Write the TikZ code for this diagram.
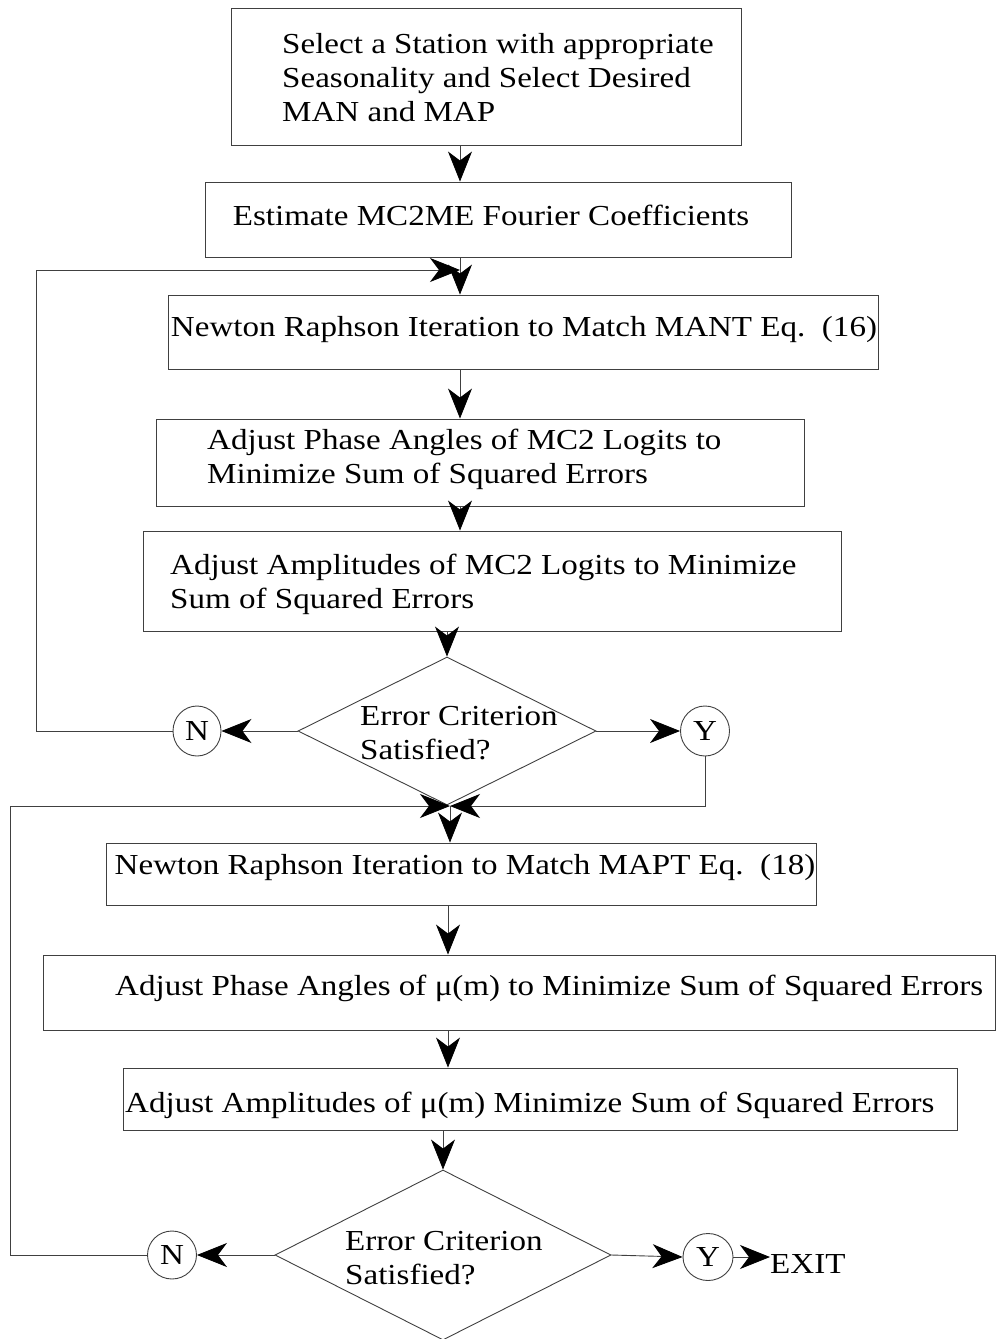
\documentclass[tikz,border=0pt]{standalone}
\usepackage{fontspec}
\setmainfont{Liberation Serif}[FakeStretch=1.14]
\usetikzlibrary{shapes.geometric,arrows.meta}
\begin{document}
\begin{tikzpicture}[x=1pt,y=-1pt,
  box/.style={draw=black!75, line width=0.9pt, rectangle, inner sep=0pt},
  dia/.style={draw=black!75, line width=0.9pt, diamond, inner sep=0pt},
  circ/.style={draw=black!75, line width=0.9pt, ellipse, inner sep=0pt, font=\fontsize{29}{34}\selectfont},
  txt/.style={font=\fontsize{29}{34}\selectfont, inner sep=0pt, align=left},
  arr/.style={draw=black!75, line width=0.9pt, -{Stealth[length=30pt,width=24pt,inset=9pt,color=black]}},
  link/.style={draw=black!75, line width=0.9pt}
]
\useasboundingbox (0,0) rectangle (996,1339);
% boxes
\node[box, minimum width=510pt, minimum height=137pt] (b1) at (486,76.5) {};
\node[box, minimum width=586pt, minimum height=75pt] (b2) at (498,219.5) {};
\node[box, minimum width=710pt, minimum height=74pt] (b3) at (523,332) {};
\node[box, minimum width=648pt, minimum height=87pt] (b4) at (480,462.5) {};
\node[box, minimum width=698pt, minimum height=100pt] (b5) at (492,581) {};
\node[dia, minimum width=298pt, minimum height=148pt] (d1) at (447,731) {};
\node[box, minimum width=710pt, minimum height=62pt] (b6) at (461,874) {};
\node[box, minimum width=952pt, minimum height=75pt] (b7) at (519,992.5) {};
\node[box, minimum width=834pt, minimum height=62pt] (b8) at (540,1099) {};
\node[dia, minimum width=336pt, minimum height=170pt] (d2) at (443,1255) {};
% texts
\node[txt, anchor=west] (t1) at (282,78) {Select a Station with appropriate\\Seasonality and Select Desired\\MAN and MAP};
\node[txt] (t2) at (491,215) {Estimate MC2ME Fourier Coefficients};
\node[txt] (t3) at (524,330) {Newton Raphson Iteration to Match MANT Eq.\ \ (16)};
\node[txt, anchor=west] (t4) at (207,459) {Adjust Phase Angles of MC2 Logits to\\Minimize Sum of Squared Errors};
\node[txt, anchor=west] (t5) at (170,584) {Adjust Amplitudes of MC2 Logits to Minimize\\Sum of Squared Errors};
\node[txt, anchor=west] (dt1) at (360,733) {Error Criterion\\Satisfied?};
\node[txt] (t6) at (465,868) {Newton Raphson Iteration to Match MAPT Eq.\ \ (18)};
\node[txt, anchor=west] (t7) at (115,988) {Adjust Phase Angles of μ(m) to Minimize Sum of Squared Errors};
\node[txt, anchor=west] (t8) at (125,1105) {Adjust Amplitudes of μ(m) Minimize Sum of Squared Errors};
\node[txt, anchor=west] (dt2) at (345,1258) {Error Criterion\\Satisfied?};
\node[txt, anchor=west] (exit) at (770,1264) {EXIT};
% circles
\node[circ, minimum width=48pt, minimum height=50pt] (n1) at (197,731) {N};
\node[circ, minimum width=49pt, minimum height=50pt] (y1) at (705,731) {Y};
\node[circ, minimum width=49pt, minimum height=48pt] (n2) at (172,1255) {N};
\node[circ, minimum width=50pt, minimum height=47pt] (y2) at (708,1257) {Y};
% helper coordinates
\coordinate (cx1) at (460,0);
\coordinate (cx2) at (448,0);
\coordinate (lp1) at (36,270);
\coordinate (m1) at (460,270);
\coordinate (m2) at (450,806);
\coordinate (lp2) at (10,806);
% connectors
\draw[arr] (b1.south -| cx1) -- (b2.north -| cx1);
\draw[arr] (b2.south -| cx1) -- (b3.north -| cx1);
\draw[arr] (b3.south -| cx1) -- (b4.north -| cx1);
\draw[arr] (b4.south -| cx1) -- (b5.north -| cx1);
\draw[arr] (b5.south -| d1.north) -- (d1.north);
\draw[arr] (n1.west) -| (lp1) -- (m1);
\draw[arr] (d1.west) -- (n1.east);
\draw[arr] (d1.east) -- (y1.west);
\draw[arr] (y1.south) |- (m2);
\draw[arr] (n2.west) -| (lp2) -- (m2);
\draw[arr] (m2) -- (b6.north -| m2);
\draw[arr] (b6.south -| cx2) -- (b7.north -| cx2);
\draw[arr] (b7.south -| cx2) -- (b8.north -| cx2);
\draw[arr] (b8.south -| d2.north) -- (d2.north);
\draw[arr] (d2.west) -- (n2.east);
\draw[arr] (d2.east) -- (y2.west);
\draw[arr] (y2.east) -- (y2.east -| exit.west);
\end{tikzpicture}
\end{document}
